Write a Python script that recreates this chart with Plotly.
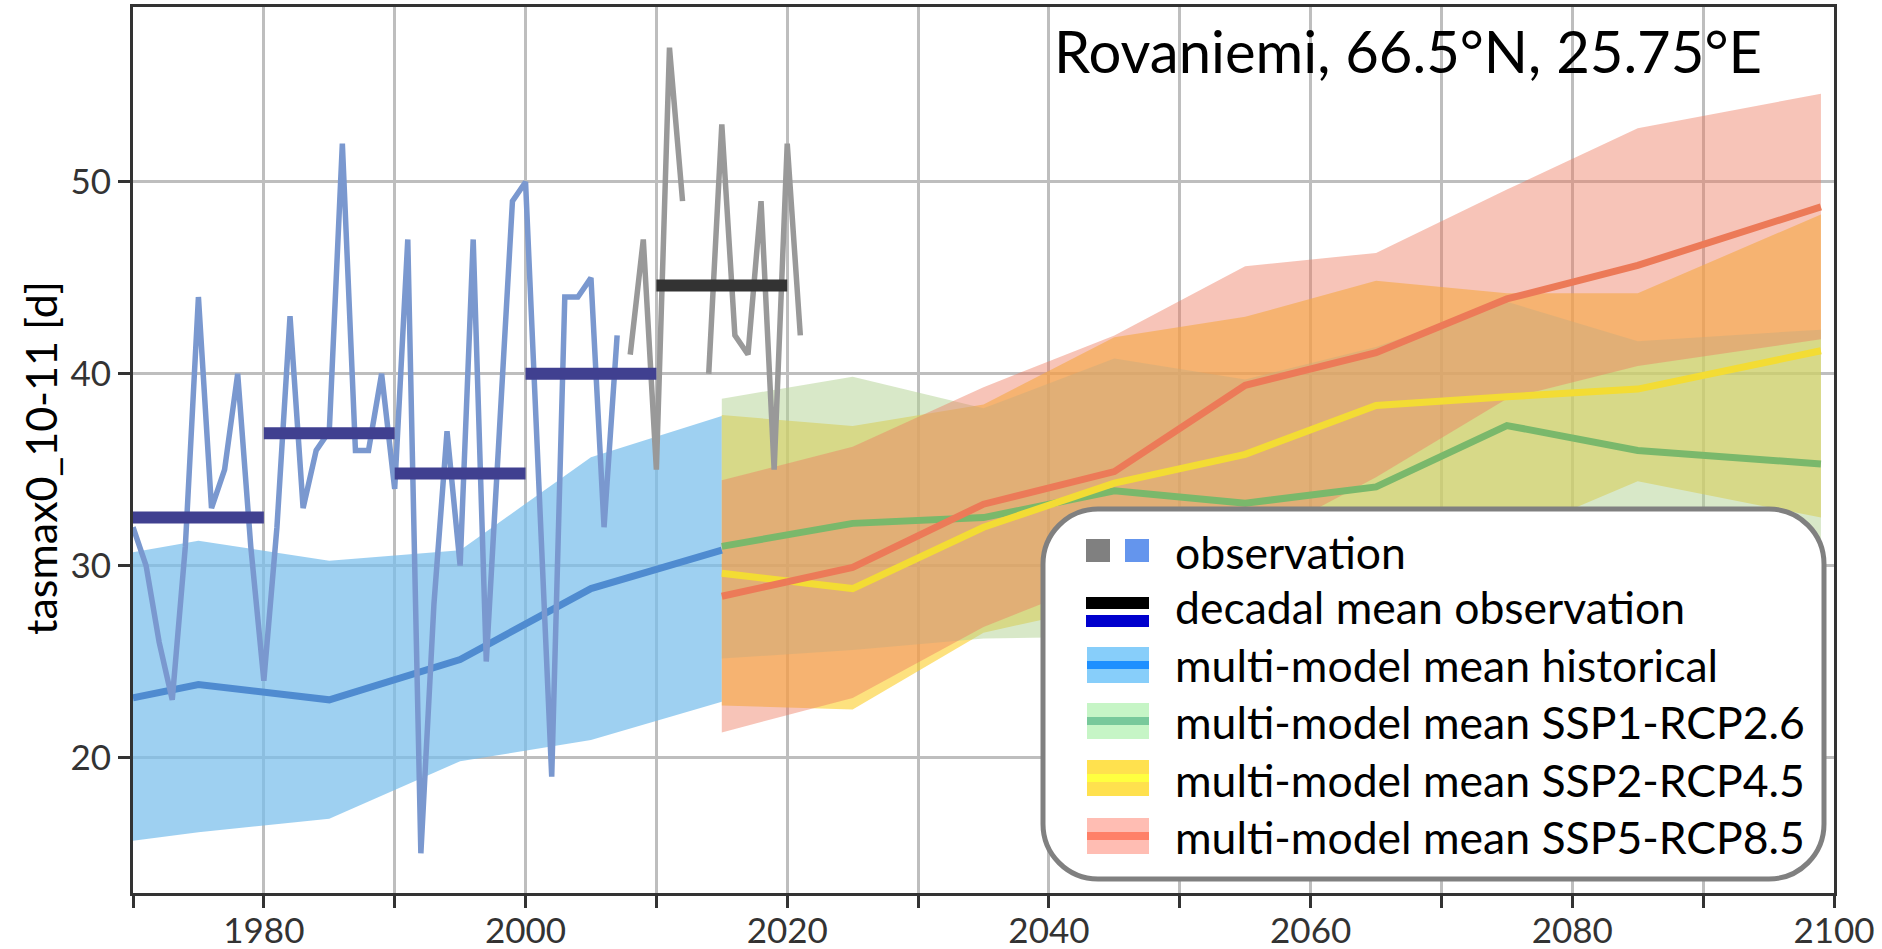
import plotly.graph_objects as go

# ---------------- data ----------------
obs_years_blue = list(range(1970, 2008))
obs_blue = [32, 30, 26, 23, 31, 44, 33, 35, 40, 31,
            24, 32, 43, 33, 36, 37, 52, 36, 36, 40,
            34, 47, 15, 28, 37, 30, 47, 25, 37, 49,
            50, 35, 19, 44, 44, 45, 32, 42]
obs_years_gray = list(range(2008, 2022))
obs_gray = [41, 47, 35, 57, 49, None, 40, 53, 42, 41, 49, 35, 52, 42]

decade_start_blue = [1970, 1980, 1990, 2000]
decade_mean_blue = [32.5, 36.9, 34.8, 40.0]
decade_start_gray = [2010]
decade_mean_gray = [44.6]

hist_years = [1970, 1975, 1985, 1995, 2005, 2015]
hist_mean = [23.1, 23.8, 23.0, 25.1, 28.8, 30.8]
hist_high = [30.7, 31.3, 30.25, 30.8, 35.65, 37.8]
hist_low = [15.65, 16.1, 16.8, 19.8, 20.9, 22.9]

fut_years = [2015, 2025, 2035, 2045, 2055, 2065, 2075, 2085, 2099]
ssp126_mean = [31.0, 32.2, 32.5, 33.9, 33.25, 34.1, 37.3, 36.0, 35.3]
ssp126_high = [38.7, 39.85, 38.2, 40.8, 39.7, 41.4, 43.75, 41.7, 42.3]
ssp126_low = [25.15, 25.6, 26.2, 26.3, 26.0, 27.0, 28.0, 28.5, 28.5]
ssp245_mean = [29.6, 28.8, 32.0, 34.3, 35.8, 38.35, 38.8, 39.2, 41.2]
ssp245_high = [37.85, 37.27, 38.4, 41.9, 42.97, 44.85, 44.2, 44.2, 48.3]
ssp245_low = [22.7, 22.5, 26.5, 28.0, 29.0, 30.0, 31.5, 34.4, 32.5]
ssp585_mean = [28.4, 29.9, 33.2, 34.9, 39.4, 41.1, 43.9, 45.65, 48.7]
ssp585_high = [34.45, 36.2, 39.3, 42.0, 45.6, 46.3, 49.6, 52.8, 54.6]
ssp585_low = [21.3, 23.1, 26.8, 29.5, 31.0, 34.6, 38.7, 40.4, 41.8]

x_tick_vals = list(range(1970, 2101, 10))
x_tick_text = ["" if v % 20 else str(v) for v in x_tick_vals]
y_tick_vals = [20, 30, 40, 50]

title_text = "Rovaniemi, 66.5°N, 25.75°E"
y_label = "tasmax0_10-11 [d]"
legend_labels = ["observation", "decadal mean observation",
                 "multi-model mean historical", "multi-model mean SSP1-RCP2.6",
                 "multi-model mean SSP2-RCP4.5", "multi-model mean SSP5-RCP8.5"]

FONT = "Lato"

# ---------------- figure ----------------
fig = go.Figure()


def band(xs, lo, hi, color):
    fig.add_trace(go.Scatter(x=xs + xs[::-1], y=hi + lo[::-1], fill="toself",
                             fillcolor=color, mode="none", hoverinfo="skip",
                             showlegend=False))


band(hist_years, hist_low, hist_high, "rgba(120,190,235,0.72)")
band(fut_years, ssp245_low, ssp245_high, "rgba(251,205,40,0.6)")
band(fut_years, ssp126_low, ssp126_high, "rgba(177,209,145,0.5)")
band(fut_years, ssp585_low, ssp585_high, "rgba(237,124,97,0.45)")


def line(xs, ys, color, width):
    fig.add_trace(go.Scatter(x=xs, y=ys, mode="lines",
                             line=dict(color=color, width=width),
                             showlegend=False, hoverinfo="skip"))


line(hist_years, hist_mean, "#4F8BD0", 7)
line(fut_years, ssp126_mean, "#7AB86B", 7)
line(fut_years, ssp245_mean, "#F3DC34", 7)
line(fut_years, ssp585_mean, "#EC7A58", 7)

line(obs_years_blue, obs_blue, "#7A98CF", 5.5)
line(obs_years_gray, obs_gray, "#999999", 5.5)


def decades(starts, means, color):
    xs, ys = [], []
    for s, m in zip(starts, means):
        xs += [s, s + 10, None]
        ys += [m, m, None]
    line(xs, ys, color, 12)


decades(decade_start_blue, decade_mean_blue, "#404090")
decades(decade_start_gray, decade_mean_gray, "#333333")

# ---------------- layout ----------------
L, R, T, B = 133, 1834, 7, 893
W, H = R - L, B - T


def px(x):
    return (x - L) / W


def py(y):
    return (B - y) / H


axis_common = dict(showline=True, mirror=True, linecolor="#333333", linewidth=3,
                   ticks="outside", ticklen=12, tickwidth=3, tickcolor="#333333",
                   showgrid=True, gridcolor="#BEBEBE", gridwidth=2.5, zeroline=False,
                   automargin=False,
                   tickfont=dict(family=FONT, size=35, color="#333333"))

fig.update_layout(
    width=1882, height=949,
    margin=dict(l=L, r=1882 - R, t=T, b=949 - B),
    paper_bgcolor="white", plot_bgcolor="white",
    xaxis=dict(range=[1970, 2100], tickvals=x_tick_vals, ticktext=x_tick_text,
               ticklabelstandoff=-7, **axis_common),
    yaxis=dict(range=[12.93, 59.12], tickvals=y_tick_vals, **axis_common),
    showlegend=False,
)

annotations = [
    dict(text=title_text, x=px(1764), y=py(50), xref="paper", yref="paper",
         xanchor="right", yanchor="middle", showarrow=False,
         font=dict(family=FONT, size=58, color="black")),
    dict(text=y_label, x=px(40), y=py(458), xref="paper", yref="paper",
         xanchor="center", yanchor="middle", textangle=-90, showarrow=False,
         font=dict(family=FONT, size=43, color="black")),
]

shapes = []
# rounded legend box
x0, x1, y0, y1, r = 1043, 1824, 509, 879, 55
k = 0.5523 * r


def P(x, y):
    return f"{px(x):.6f},{py(y):.6f}"


path = (f"M {P(x0 + r, y0)} L {P(x1 - r, y0)} "
        f"C {P(x1 - r + k, y0)} {P(x1, y0 + r - k)} {P(x1, y0 + r)} "
        f"L {P(x1, y1 - r)} "
        f"C {P(x1, y1 - r + k)} {P(x1 - r + k, y1)} {P(x1 - r, y1)} "
        f"L {P(x0 + r, y1)} "
        f"C {P(x0 + r - k, y1)} {P(x0, y1 - r + k)} {P(x0, y1 - r)} "
        f"L {P(x0, y0 + r)} "
        f"C {P(x0, y0 + r - k)} {P(x0 + r - k, y0)} {P(x0 + r, y0)} Z")
shapes.append(dict(type="path", path=path, xref="paper", yref="paper", layer="above",
                   fillcolor="white", line=dict(color="#808080", width=5)))


def rect(xa, xb, ya, yb, color):
    shapes.append(dict(type="rect", xref="paper", yref="paper", layer="above",
                       x0=px(xa), x1=px(xb), y0=py(yb), y1=py(ya),
                       fillcolor=color, line=dict(width=0)))


# row 1: observation squares
rect(1086, 1110, 539, 562, "#808080")
rect(1125, 1149, 539, 562, "#6495ED")
# row 2: decadal means
rect(1086, 1149, 597, 609, "#000000")
rect(1086, 1149, 615, 627, "#0000CD")
# rows 3-6: bands with lines
swatches = [(647, "#87CEFA", "#1E90FF"), (703, "#C6F5C6", "#78C99B"),
            (760, "#FFE14E", "#FFFF40"), (818, "#FFBDB3", "#FF8068")]
for top, bc, lc in swatches:
    rect(1087, 1149, top, top + 36, bc)
    rect(1087, 1149, top + 14, top + 22, lc)

row_centers = [551, 607, 664, 721, 779, 836]
for lab, yc in zip(legend_labels, row_centers):
    annotations.append(dict(text=lab, x=px(1173), y=py(yc), xref="paper", yref="paper",
                            xanchor="left", yanchor="middle", showarrow=False,
                            font=dict(family=FONT, size=44.5, color="black")))

fig.update_layout(annotations=annotations, shapes=shapes)
fig.write_html("out.html")
